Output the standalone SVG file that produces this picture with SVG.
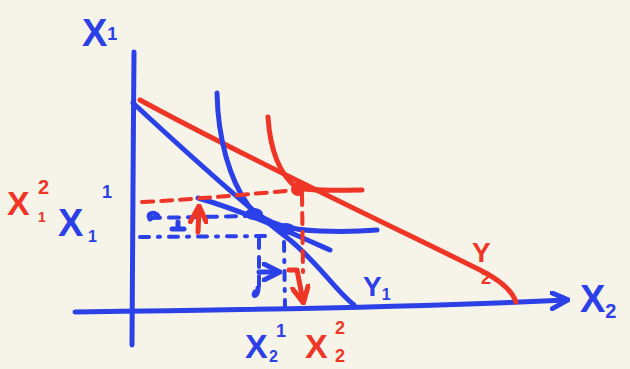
<svg xmlns="http://www.w3.org/2000/svg" width="630" height="369" viewBox="0 0 630 369">
<defs>
<style>
.b{stroke:#2b40e6;fill:none;stroke-width:5;stroke-linecap:round;stroke-linejoin:round}
.r{stroke:#ee3526;fill:none;stroke-width:5;stroke-linecap:round;stroke-linejoin:round}
.bd{stroke:#2b40e6;fill:none;stroke-width:4;stroke-linecap:round;stroke-dasharray:10 9}
.bdd{stroke:#2b40e6;fill:none;stroke-width:4;stroke-linecap:round;stroke-dasharray:9 9 2 9}
.rd{stroke:#ee3526;fill:none;stroke-width:4;stroke-linecap:round;stroke-dasharray:11 8}
.tb{fill:#2b40e6;font-family:"Liberation Sans",Arial,sans-serif;font-weight:bold}
.tr{fill:#ee3526;font-family:"Liberation Sans",Arial,sans-serif;font-weight:bold}
</style>
<marker id="ab" viewBox="0 0 10 10" refX="8" refY="5" markerWidth="4" markerHeight="4" orient="auto" markerUnits="strokeWidth"><path d="M1,1 L9,5 L1,9" fill="none" stroke="#2b40e6" stroke-width="2.5" stroke-linecap="round" stroke-linejoin="round"/></marker>
<marker id="ar" viewBox="0 0 10 10" refX="8" refY="5" markerWidth="4" markerHeight="4" orient="auto" markerUnits="strokeWidth"><path d="M1,1 L9,5 L1,9" fill="none" stroke="#ee3526" stroke-width="2.5" stroke-linecap="round" stroke-linejoin="round"/></marker>
</defs>
<rect width="630" height="369" fill="#f6f3e8"/>
<g id="connectors">
<path class="b" d="M134,52 C133,150 133,250 132,345"/>
<path class="b" d="M75,312 C250,310 420,307 566,300" marker-end="url(#ab)"/>
<path class="r" d="M140,100 C250,160 400,230 480,270 C500,280 512,290 516,302"/>
<path class="b" d="M133,103 C200,165 250,210 290,240 C320,265 335,290 354,305"/>
<path class="b" d="M198,198 C240,210 280,228 330,250"/>
<path class="b" d="M217,93 C218,140 230,180 248,205 C262,222 285,230 320,231 C345,232 365,231 377,230"/>
<path class="r" d="M268,117 C270,150 280,175 296,187 C315,192 340,190 362,190"/>
<path class="rd" d="M142,202 C200,199 250,194 297,190"/>
<path class="rd" d="M302,194 L303,272"/>
<path class="bd" d="M150,218 L250,216"/>
<path class="bdd" d="M140,237 L268,236"/>
<path class="bd" d="M259,238 L259,288"/>
<path class="bdd" d="M284,242 L285,306"/>
<path class="r" d="M198,232 L199,208" marker-end="url(#ar)"/>
<path class="r" d="M289,270 L297,270 L303,301" marker-end="url(#ar)"/>
<path class="b" d="M259,272 L278,272" marker-end="url(#ab)"/>
<path class="b" d="M258,288 C258,296 252,298 255,292"/>
</g>
<g id="points">
<circle cx="298" cy="189" r="7" fill="#ee3526"/>
<ellipse cx="254" cy="214" rx="9" ry="6" fill="#2b40e6"/>
<ellipse cx="286" cy="229" rx="9" ry="6" fill="#2b40e6"/>
<path class="b" d="M150,219 C146,212 156,212 158,216"/>
<path class="b" d="M172,229 L184,229 M178,222 L178,229"/>
</g>
<g id="label-x1-axis"><text class="tb" x="82" y="46" font-size="38">X<tspan font-size="18" dy="-6">1</tspan></text></g>
<g id="label-x2-axis"><text class="tb" x="580" y="312" font-size="38">X<tspan font-size="20" dy="6">2</tspan></text></g>
<g id="label-x1-2"><text class="tr" x="7" y="215" font-size="34">X</text><text class="tr" x="38" y="194" font-size="20">2</text><text class="tr" x="38" y="222" font-size="14">1</text></g>
<g id="label-x1-1"><text class="tb" x="58" y="236" font-size="38">X</text><text class="tb" x="88" y="242" font-size="16">1</text><text class="tb" x="102" y="198" font-size="18">1</text></g>
<g id="label-x2-1"><text class="tb" x="245" y="358" font-size="34">X</text><text class="tb" x="269" y="362" font-size="16">2</text><text class="tb" x="276" y="337" font-size="18">1</text></g>
<g id="label-x2-2"><text class="tr" x="305" y="358" font-size="34">X</text><text class="tr" x="335" y="334" font-size="18">2</text><text class="tr" x="335" y="362" font-size="18">2</text></g>
<g id="label-y1"><text class="tb" x="363" y="296" font-size="28">Y<tspan font-size="16" dy="4">1</tspan></text></g>
<g id="label-y2"><text class="tr" x="472" y="262" font-size="28">Y</text><text class="tr" x="481" y="284" font-size="18">2</text></g>
</svg>
